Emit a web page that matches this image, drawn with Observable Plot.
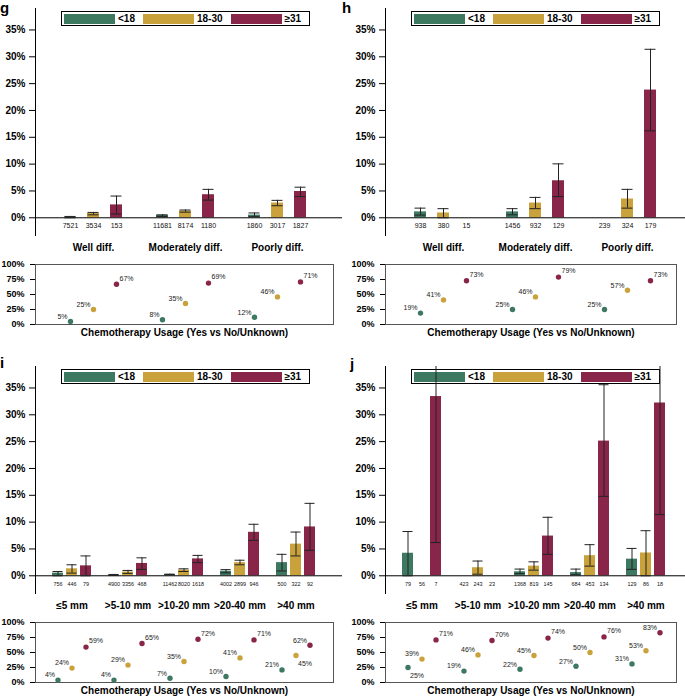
<!DOCTYPE html>
<html>
<head>
<meta charset="utf-8">
<script src="https://cdn.jsdelivr.net/npm/d3@7"></script>
<script src="https://cdn.jsdelivr.net/npm/@observablehq/plot@0.6"></script>
<style>
  body { margin: 0; background: #fff; }
  #root { position: relative; width: 685px; height: 698px; overflow: hidden; font-family: "Liberation Sans", Arial, sans-serif; }
  .panel { position: absolute; }
  .panel svg { position: absolute; left: 0; display: block; overflow: visible; }
  .letter { position: absolute; font: bold 15px "Liberation Sans", Arial, sans-serif; line-height: 1; color: #000; }
  .lgwrap { position: absolute; left: 61px; top: 11px; }
  #root .lg-swatches { margin: 0; min-height: 0; border: 1px solid #000; padding: 1px 0 1px 2px; background: #fff;
    font: bold 10px "Liberation Sans", Arial, sans-serif; color: #000; display: flex; flex-wrap: nowrap; align-items: center; }
  #root .lg-swatch { margin-right: 8px; display: inline-flex; align-items: center; }
  #root .lg-swatch > svg { margin-right: 3px; position: static; }
</style>
</head>
<body>
<div id="root"></div>
<script>
// ---------- shared categories ----------
const ageGroups = ["<18", "18-30", "≥31"];
const ageColors = ["#3d7860", "#c9a23b", "#882548"];
const chemoTitle = "Chemotherapy Usage (Yes vs No/Unknown)";
const barTicks = [0, 5, 10, 15, 20, 25, 30, 35];
const dotTicks = [0, 25, 50, 75, 100];

// ---------- panel g (grade) ----------
const gCategories = ["Well diff.", "Moderately diff.", "Poorly diff."];
const gRate  = [0.12, 0.8, 2.4,   0.45, 1.25, 4.3,   0.5, 2.75, 4.9];
const gLow   = [0,    0.55, 0.7,  0.25, 1.05, 3.3,   0.2, 2.25, 3.95];
const gHigh  = [0.25, 1.0, 4.05,  0.55, 1.45, 5.3,   0.9, 3.25, 5.7];
const gN     = [7521, 3534, 153,  11681, 8174, 1180, 1860, 3017, 1827];
const gChemo = [5, 25, 67,  8, 35, 69,  12, 46, 71];

// ---------- panel h (grade) ----------
const hCategories = ["Well diff.", "Moderately diff.", "Poorly diff."];
const hRate  = [1.1, 0.9, 0,      1.1, 2.75, 6.9,    0, 3.5, 23.8];
const hLow   = [0.5, 0, null,     0.55, 1.7, 3.95,   null, 1.8, 16.2];
const hHigh  = [1.8, 1.7, null,   1.7, 3.8, 10.05,   null, 5.3, 31.4];
const hN     = [938, 380, 15,  1456, 932, 129,  239, 324, 179];
const hChemo = [19, 41, 73,  25, 46, 79,  25, 57, 73];

// ---------- panel i (size) ----------
const iCategories = ["≤5 mm", ">5-10 mm", ">10-20 mm", ">20-40 mm", ">40 mm"];
const iRate  = [0.5, 1.3, 1.85,  0.15, 0.7, 2.3,  0.25, 1.05, 3.15,  0.85, 2.45, 8.1,  2.45, 5.9, 9.1];
const iLow   = [0, 0.5, 0,       0.05, 0.45, 1.2, 0.2, 0.8, 2.45,    0.55, 2.05, 6.6,  0.9, 3.7, 4.75];
const iHigh  = [0.8, 2.05, 3.7,  0.25, 1.0, 3.35, 0.3, 1.3, 3.8,     1.15, 2.9, 9.6,   4.0, 8.15, 13.5];
const iN     = [756, 446, 79,  4900, 3356, 468,  11462, 8020, 1618,  4002, 2899, 946,  500, 322, 92];
const iChemo = [4, 24, 59,  4, 29, 65,  7, 35, 72,  10, 41, 71,  21, 45, 62];

// ---------- panel j (size) ----------
const jCategories = ["≤5 mm", ">5-10 mm", ">10-20 mm", ">20-40 mm", ">40 mm"];
const jRate  = [4.2, 0, 33.4,       0, 1.5, 0,        0.75, 1.8, 7.4,  0.6, 3.75, 25.1,  3.1, 4.25, 32.2];
const jLow   = [0, null, 6.2,       null, 0.3, null,  0.4, 1.05, 4.0,  0.2, 1.8, 14.8,   1.2, 0, 11.4];
const jHigh  = [8.25, null, 60.6,   null, 2.75, null, 1.25, 2.6, 10.9, 1.25, 5.8, 35.6,  5.1, 8.4, 53];
const jN     = [79, 56, 7,  423, 243, 23,  1368, 819, 145,  684, 453, 134,  129, 86, 18];
const jChemo = [25, 39, 71,  19, 46, 70,  22, 45, 74,  27, 50, 76,  31, 53, 83];

// ---------- label placement (style config) ----------
const placementStyle = {
  "upper-left":  {textAnchor: "end",   dx: -3, dy: -5},
  "upper-right": {textAnchor: "start", dx: 3,  dy: -6},
  "below-right": {textAnchor: "start", dx: 2,  dy: 8}
};
const defaultPlacement = {"<18": "upper-left", "18-30": "upper-left", "≥31": "upper-right"};
const labelOverrides = {i: {13: "below-right", 14: "upper-left"}, j: {0: "below-right", 14: "upper-left"}};

const fontFamily = '"Liberation Sans", Arial, sans-serif';
const root = document.getElementById("root");

function buildPanel(cfg) {
  const {key, categories, rate, low, high, n, chemo, left, top, width, xRange, padInner, countSize, letterLeft, letterTop} = cfg;
  const rows = [];
  categories.forEach((c, gi) => ageGroups.forEach((a, ai) => {
    const k = gi * ageGroups.length + ai;
    const over = (labelOverrides[key] || {})[k];
    rows.push({slot: c + "|" + a, category: c, age: a, rate: rate[k], low: low[k], high: high[k],
               n: n[k], chemo: chemo[k], place: over || defaultPlacement[a]});
  }));
  const domain = [];
  categories.forEach((c, gi) => {
    ageGroups.forEach(a => domain.push(c + "|" + a));
    if (gi < categories.length - 1) domain.push("gap" + gi);
  });
  const xOpts = {type: "band", domain, range: xRange, paddingInner: padInner, paddingOuter: 0, axis: null};
  const color = {domain: ageGroups, range: ageColors};
  const errRows = rows.filter(d => d.low != null);
  const style = {fontFamily, fontSize: "10px", fontWeight: "bold", color: "#000", background: "transparent", overflow: "visible"};

  const bars = Plot.plot({
    width, height: 258, marginTop: 8, marginBottom: 23, marginLeft: 35, marginRight: 0,
    style,
    x: xOpts,
    y: {domain: [-3.3, 39], axis: null},
    color,
    marks: [
      Plot.axisY({ticks: barTicks, tickFormat: d => d + "%", tickSize: 6, tickPadding: 4, label: null, fontSize: 10, fontWeight: "bold"}),
      Plot.frame({anchor: "left", stroke: "#000"}),
      Plot.barY(rows, {x: "slot", y: "rate", fill: "age"}),
      Plot.ruleY([0], {stroke: "#000"}),
      Plot.ruleX(errRows, {x: "slot", y1: "low", y2: "high", stroke: "#222", strokeWidth: 1, clip: true}),
      Plot.tickY(errRows, {x: "slot", y: "high", stroke: "#222", inset: 0.5, clip: true}),
      Plot.tickY(errRows, {x: "slot", y: "low", stroke: "#222", inset: 0.5, clip: true}),
      Plot.text(rows, {x: "slot", y: () => 0, text: d => String(d.n), dy: 8, fontSize: countSize, fontWeight: "normal", fill: "#111"}),
      Plot.text(categories, {x: c => c + "|" + ageGroups[1], frameAnchor: "bottom", dy: 15, text: d => d, fontSize: 10, fontWeight: "bold", fill: "#000"})
    ]
  });

  const placements = Object.keys(placementStyle);
  const dots = Plot.plot({
    width, height: 84, marginTop: 6, marginBottom: 18, marginLeft: 35, marginRight: 9,
    style,
    x: xOpts,
    y: {domain: [0, 100], axis: null},
    color,
    marks: [
      Plot.frame({stroke: "#555"}),
      Plot.axisY({ticks: dotTicks, tickFormat: d => d + "%", tickSize: 5, tickPadding: 6, label: null, fontSize: 9, fontWeight: "bold"}),
      Plot.dot(rows, {x: "slot", y: "chemo", fill: "age", r: 2.7}),
      ...placements.map(p => Plot.text(rows.filter(d => d.place === p),
        {x: "slot", y: "chemo", text: d => d.chemo + "%", ...placementStyle[p], fontSize: 7, fontWeight: "normal", fill: "#222"})),
      Plot.text([chemoTitle], {frameAnchor: "bottom", dy: 11, text: d => d, fontSize: 10, fontWeight: "bold", fill: "#000"})
    ]
  });

  const panel = document.createElement("div");
  panel.className = "panel";
  panel.style.left = left + "px";
  panel.style.top = top + "px";
  panel.style.width = width + "px";
  panel.style.height = "342px";

  const lg = Plot.legend({color: {type: "ordinal", domain: ageGroups, range: ageColors}, legend: "swatches",
                          swatchWidth: 51, swatchHeight: 10, className: "lg"});
  const lgwrap = document.createElement("div");
  lgwrap.className = "lgwrap";
  lgwrap.appendChild(lg);
  panel.appendChild(lgwrap);   // legend first so error bars draw over it, as in the reference

  bars.style.top = "0px";
  dots.style.top = "258px";
  panel.appendChild(bars);
  panel.appendChild(dots);
  root.appendChild(panel);

  const letter = document.createElement("div");
  letter.className = "letter";
  letter.textContent = key;
  letter.style.left = letterLeft + "px";
  letter.style.top = letterTop + "px";
  root.appendChild(letter);
}

const gradeRange = [60, 309.5], gradePad = 0.495;
const sizeRange = [43, 323.9], sizePad = 0.197;

buildPanel({key: "g", categories: gCategories, rate: gRate, low: gLow, high: gHigh, n: gN, chemo: gChemo,
  left: 0, top: 0, width: 342, xRange: gradeRange, padInner: gradePad, countSize: 7, letterLeft: 0, letterTop: 0});
buildPanel({key: "h", categories: hCategories, rate: hRate, low: hLow, high: hHigh, n: hN, chemo: hChemo,
  left: 350, top: 0, width: 335, xRange: gradeRange, padInner: gradePad, countSize: 7, letterLeft: 342, letterTop: 0});
buildPanel({key: "i", categories: iCategories, rate: iRate, low: iLow, high: iHigh, n: iN, chemo: iChemo,
  left: 0, top: 358, width: 342, xRange: sizeRange, padInner: sizePad, countSize: 5.4, letterLeft: 0, letterTop: 355});
buildPanel({key: "j", categories: jCategories, rate: jRate, low: jLow, high: jHigh, n: jN, chemo: jChemo,
  left: 350, top: 358, width: 335, xRange: sizeRange, padInner: sizePad, countSize: 5.4, letterLeft: 350, letterTop: 356});
</script>
</body>
</html>
